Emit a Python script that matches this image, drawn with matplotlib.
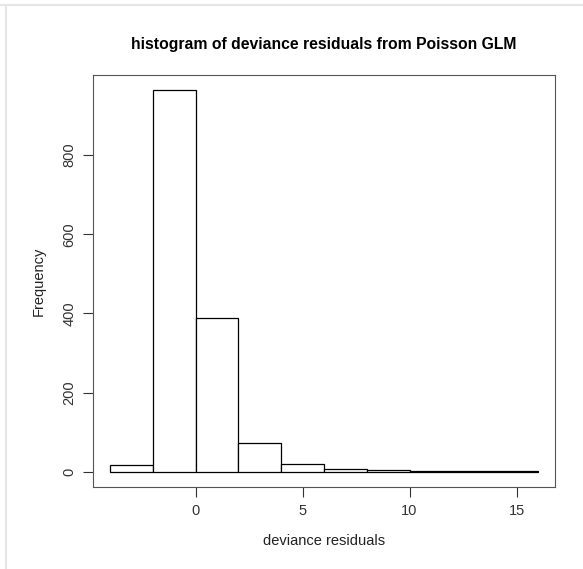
import matplotlib
matplotlib.use("Agg")
import matplotlib.pyplot as plt
from matplotlib.lines import Line2D

plt.rcParams['font.family'] = ['Liberation Sans', 'DejaVu Sans']

# histogram bins (deviance residuals) and counts
bin_edges = [-4, -2, 0, 2, 4, 6, 8, 10, 12, 14, 16]
counts = [18, 964, 389, 73, 19, 8, 4, 1, 1, 1]
x_ticks = [0, 5, 10, 15]
y_ticks = [0, 200, 400, 600, 800]

fig = plt.figure(figsize=(5.83, 5.69), dpi=100)
ax = fig.add_axes([93 / 583, 1 - 487 / 569, 462 / 583, 412 / 569])

lefts = bin_edges[:-1]
widths = [b - a for a, b in zip(bin_edges[:-1], bin_edges[1:])]
ax.bar(lefts, counts, width=widths, align='edge', color='white',
       edgecolor='black', linewidth=0.9)

# R style range: data range extended by 4%
xr = bin_edges[-1] - bin_edges[0]
ax.set_xlim(bin_edges[0] - 0.04 * xr, bin_edges[-1] + 0.04 * xr)
yr = max(counts)
ax.set_ylim(-0.04 * yr, yr * 1.04)

ax.set_xticks(x_ticks)
ax.set_yticks(y_ticks)
ax.set_yticklabels([str(v) for v in y_ticks], rotation=90, va='center')
ax.tick_params(direction='out', length=7, width=0.8, labelsize=10.5,
               colors='#333333', pad=5)

for s in ax.spines.values():
    s.set_color('#555555')
    s.set_linewidth(0.8)

ax.set_title('histogram of deviance residuals from Poisson GLM',
             fontsize=11.3, fontweight='bold', pad=19)
ax.set_xlabel('deviance residuals', fontsize=10.5, labelpad=12, color='#222222')
ax.set_ylabel('Frequency', fontsize=10.5, labelpad=12, color='#222222')

# faint frame lines of the screenshot
fig.add_artist(Line2D([0, 1], [1 - 5 / 569, 1 - 5 / 569], color='#e6e6e6', lw=1.5))
fig.add_artist(Line2D([6 / 583, 6 / 583], [0, 1 - 5 / 569], color='#e6e6e6', lw=1.5))

fig.savefig('out.png', dpi=100)
